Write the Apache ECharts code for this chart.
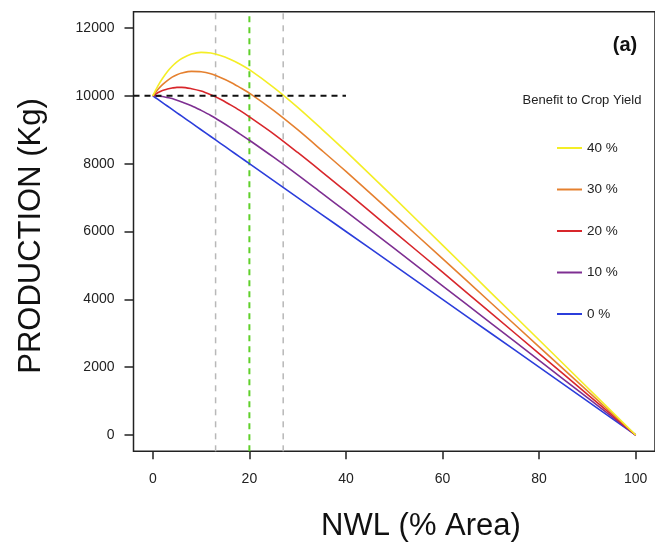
<!DOCTYPE html>
<html>
<head>
<meta charset="utf-8">
<script src="https://cdn.jsdelivr.net/npm/echarts@6/dist/echarts.min.js"></script>
<style>
html,body{margin:0;padding:0;background:#fff;}
#chart{width:655px;height:543px;}
</style>
</head>
<body>
<div id="chart"></div>
<script>
// NWL (% area) sample positions
const xValues = [0,1,2,3,4,5,6,8,10,12,14,16,18,20,25,30,35,40,50,60,70,80,90,100];
// Production (Kg) for each benefit to crop yield
const prod0  = [10000,9900,9800,9700,9600,9500,9400,9200,9000,8800,8600,8400,8200,8000,7500,7000,6500,6000,5000,4000,3000,2000,1000,0];
const prod10 = [10000,9990,9980,9950,9920,9870,9820,9710,9570,9420,9250,9070,8880,8690,8190,7670,7130,6590,5500,4400,3300,2200,1100,0];
const prod20 = [10000,10090,10160,10200,10230,10250,10250,10210,10140,10030,9900,9740,9570,9380,8880,8330,7760,7180,5990,4800,3600,2400,1200,0];
const prod30 = [10000,10180,10330,10450,10550,10620,10670,10720,10710,10650,10540,10410,10250,10080,9570,9000,8390,7770,6490,5200,3900,2600,1300,0];
const prod40 = [10000,10280,10510,10710,10870,11000,11100,11230,11280,11260,11190,11080,10940,10770,10250,9660,9020,8360,6990,5600,4200,2800,1400,0];
const seriesNames = ['0 %','10 %','20 %','30 %','40 %'];
const legendOrder = ['40 %','30 %','20 %','10 %','0 %'];
const xTicks = [0,20,40,60,80,100];
const yTicks = [0,2000,4000,6000,8000,10000,12000];
// reference lines
const baselineLevel = 10000;
const baselineEndX = 40;
const greyLinesX = [13,27];
const greenLineX = 20;

const colors = ['#2b3ddb','#7e2f92','#d8262b','#e5802f','#f4ee26'];
const allProd = [prod0, prod10, prod20, prod30, prod40];

const xMin = -4, xMax = 104, yMin = -480, yMax = 12480;
const FONT = '"Liberation Sans", Arial, Helvetica, sans-serif';

const series = [];
greyLinesX.forEach(v => {
  series.push({
    type:'line', data:[[v,yMin],[v,yMax]], symbol:'none', silent:true,
    lineStyle:{color:'#b8b8b8', width:1.5, type:[6,6]}, z:1
  });
});
series.push({
  type:'line', data:[[greenLineX,yMin],[greenLineX,yMax]], symbol:'none', silent:true,
  lineStyle:{color:'#5fd02a', width:2, type:[6,5]}, z:1
});
series.push({
  type:'line', data:[[xMin,baselineLevel],[baselineEndX,baselineLevel]], symbol:'none', silent:true,
  lineStyle:{color:'#111', width:2, type:[6,5]}, z:5
});
allProd.forEach((arr, i) => {
  series.push({
    name: seriesNames[i], type:'line', symbol:'none', smooth:0.3,
    data: xValues.map((x, j) => [x, arr[j]]),
    lineStyle:{color: colors[i], width:1.6},
    itemStyle:{color: colors[i]},
    z: 3
  });
});

const chart = echarts.init(document.getElementById('chart'), null, {renderer:'canvas'});
chart.setOption({
  animation:false,
  backgroundColor:'#fff',
  grid:{left:133.5, right:-4.5, top:11.7, bottom:91.7, show:true, borderColor:'#222', borderWidth:1.5, backgroundColor:'transparent'},
  xAxis:{
    type:'value', min:xMin, max:xMax,
    axisLine:{show:false, onZero:false},
    splitLine:{show:false},
    axisTick:{show:true, inside:false, length:8, lineStyle:{color:'#222', width:1.5}, customValues:xTicks},
    axisLabel:{customValues:xTicks, margin:21, color:'#222', fontSize:14, fontFamily:FONT, formatter: v => String(v)}
  },
  yAxis:{
    type:'value', min:yMin, max:yMax,
    axisLine:{show:false, onZero:false},
    splitLine:{show:false},
    axisTick:{show:true, inside:false, length:9, lineStyle:{color:'#222', width:1.5}, customValues:yTicks},
    axisLabel:{customValues:yTicks, margin:19, color:'#222', fontSize:14, fontFamily:FONT, formatter: v => String(v)}
  },
  legend:{
    data: legendOrder, orient:'vertical', left:552, top:136,
    icon:'rect',
    itemWidth:25, itemHeight:2, itemGap:27.5,
    textStyle:{fontSize:13.5, color:'#222', fontFamily:FONT},
    selectedMode:false
  },
  graphic:[
    {type:'text', x:31, y:236, rotation:Math.PI/2,
     style:{text:'PRODUCTION (Kg)', font:'31px '+FONT, fill:'#111', textAlign:'center', textVerticalAlign:'middle'}},
    {type:'text', x:421, y:526,
     style:{text:'NWL (% Area)', font:'31px '+FONT, fill:'#111', textAlign:'center', textVerticalAlign:'middle'}},
    {type:'text', x:625, y:45,
     style:{text:'(a)', font:'bold 20px '+FONT, fill:'#111', textAlign:'center', textVerticalAlign:'middle'}},
    {type:'text', x:582, y:100,
     style:{text:'Benefit to Crop Yield', font:'13px '+FONT, fill:'#222', textAlign:'center', textVerticalAlign:'middle'}}
  ],
  series: series
});
</script>
</body>
</html>
